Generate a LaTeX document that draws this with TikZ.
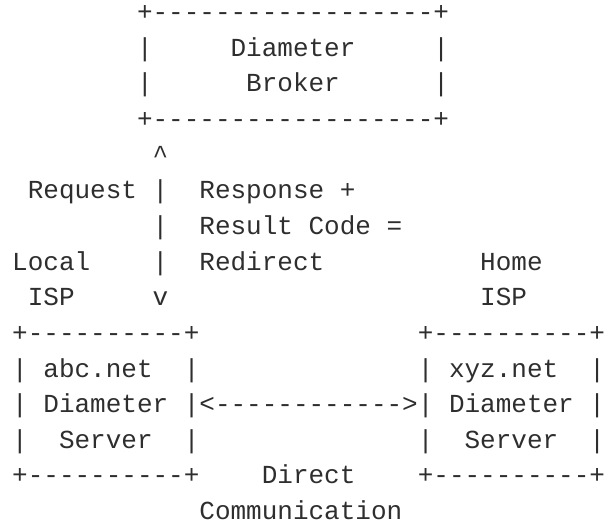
\documentclass[tikz,border=0pt]{standalone}
\usepackage{fontspec}
\newfontfamily\artmono{Liberation Mono}
\definecolor{ink}{RGB}{46,46,46}
\newcommand\dashrun[1]{\foreach \k in {1,...,#1}{-}}
\newcommand\artcell[4]{\node[arttext] (#1) at ({12.2+#2*15.6},{-(20.6+#3*35.64)}) {#4};}
\tikzset{arttext/.style={anchor=base west, inner sep=0pt, outer sep=0pt, text=ink,
  font=\artmono\fontsize{26}{30}\selectfont}}
\begin{document}
\begin{tikzpicture}[x=1pt,y=1pt]
\useasboundingbox (0,0) rectangle (604,-525);
% Diameter Broker box
\artcell{brtop}{8}{0}{+\dashrun{18}+}
\artcell{brl1}{8}{1}{|}
\artcell{brname1}{14}{1}{Diameter}
\artcell{brr1}{27}{1}{|}
\artcell{brl2}{8}{2}{|}
\artcell{brname2}{15}{2}{Broker}
\artcell{brr2}{27}{2}{|}
\artcell{brbot}{8}{3}{+\dashrun{18}+}
% vertical request/response arrow
\artcell{up}{9}{4}{\textasciicircum}
\artcell{req}{1}{5}{Request}
\artcell{v1}{9}{5}{|}
\artcell{resp}{12}{5}{Response +}
\artcell{v2}{9}{6}{|}
\artcell{rc}{12}{6}{Result Code =}
\artcell{local}{0}{7}{Local}
\artcell{v3}{9}{7}{|}
\artcell{redir}{12}{7}{Redirect}
\artcell{home}{30}{7}{Home}
\artcell{lisp}{1}{8}{ISP}
\artcell{down}{9}{8}{v}
\artcell{hisp}{30}{8}{ISP}
% left server box
\artcell{ltop}{0}{9}{+\dashrun{10}+}
\artcell{ll1}{0}{10}{|}
\artcell{labc}{2}{10}{abc.net}
\artcell{lr1}{11}{10}{|}
\artcell{ll2}{0}{11}{|}
\artcell{ldia}{2}{11}{Diameter}
\artcell{ll3}{0}{12}{|}
\artcell{lsrv}{3}{12}{Server}
\artcell{lr3}{11}{12}{|}
\artcell{lbot}{0}{13}{+\dashrun{10}+}
% horizontal arrow
\artcell{harrow}{11}{11}{|<\dashrun{12}>|}
% right server box
\artcell{rtop}{26}{9}{+\dashrun{10}+}
\artcell{rl1}{26}{10}{|}
\artcell{rxyz}{28}{10}{xyz.net}
\artcell{rr1}{37}{10}{|}
\artcell{rdia}{28}{11}{Diameter}
\artcell{rr2}{37}{11}{|}
\artcell{rl3}{26}{12}{|}
\artcell{rsrv}{29}{12}{Server}
\artcell{rr3}{37}{12}{|}
\artcell{rbot}{26}{13}{+\dashrun{10}+}
% labels
\artcell{direct}{16}{13}{Direct}
\artcell{comm}{12}{14}{Communication}
\end{tikzpicture}
\end{document}
